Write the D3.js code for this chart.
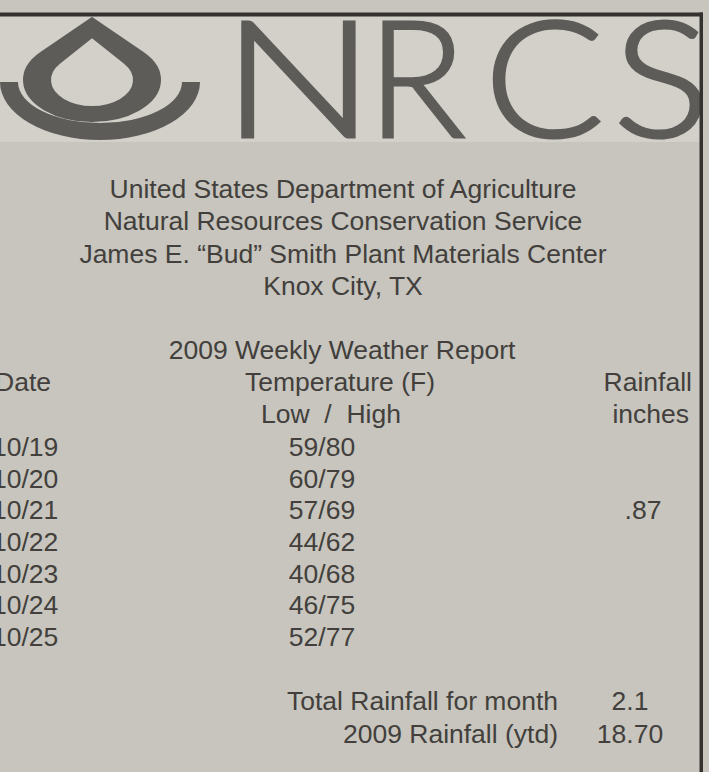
<!DOCTYPE html>
<html>
<head>
<meta charset="utf-8">
<script src="https://cdn.jsdelivr.net/npm/d3@7"></script>
<style>
  body { margin: 0; background: #c7c5bd; }
  text { font-family: "Liberation Sans", Arial, sans-serif; fill: #423f3c; }
</style>
</head>
<body>
<div id="chart"></div>
<script>
// report data
var headerLines = [
  "United States Department of Agriculture",
  "Natural Resources Conservation Service",
  "James E. \u201cBud\u201d Smith Plant Materials Center",
  "Knox City, TX"
];
var reportTitle = "2009 Weekly Weather Report";
var dates = ["10/19", "10/20", "10/21", "10/22", "10/23", "10/24", "10/25"];
var lows = [59, 60, 57, 44, 40, 46, 52];
var highs = [80, 79, 69, 62, 68, 75, 77];
var rainfall = [null, null, 0.87, null, null, null, null];
var totalLabels = ["Total Rainfall for month", "2009 Rainfall (ytd)"];
var totalValues = ["2.1", "18.70"];

var width = 709;
var height = 772;

var svg = d3.select("#chart")
  .append("svg")
  .attr("width", width)
  .attr("height", height);

//paper
svg.append("rect")
  .attr("width", width).attr("height", height)
  .attr("fill", "#c7c5bd");

//logo band
svg.append("rect")
  .attr("x", 0).attr("y", 16)
  .attr("width", 700).attr("height", 126)
  .attr("fill", "#d2d0c9");

svg.append("clipPath").attr("id", "band")
  .append("rect").attr("x", 0).attr("y", 16).attr("width", 700).attr("height", 126);

var logo = svg.append("g").attr("clip-path", "url(#band)");

//drop: apex + elliptic bottom, outer and inner
function drop(ax, ay, cx, cy, rx, ry) {
  var d = (cy - ay) / ry;
  var ty = -1 / d, tx = Math.sqrt(1 - ty * ty);
  var x1 = cx - tx * rx, x2 = cx + tx * rx, y1 = cy + ty * ry;
  return "M" + ax + "," + ay + "L" + x1 + "," + y1 +
    "A" + rx + "," + ry + " 0 1 0 " + x2 + "," + y1 + "Z";
}
logo.append("path")
  .attr("d", drop(92, 18, 92, 80, 68, 41) + drop(92, 37, 92, 80, 42, 27))
  .attr("fill-rule", "evenodd")
  .attr("stroke", "#5d5c58")
  .attr("stroke-width", 2)
  .attr("stroke-linejoin", "round")
  .attr("fill", "#5d5c58");

//arc under the drop
logo.append("path")
  .attr("d", "M0,82A100,58 0 0 0 200,82L182,82A82,41 0 0 1 18,82Z")
  .attr("fill", "#5d5c58");

//wordmark, each letter placed and stretched on its own
var letters = [
  { c: "N", x: 222, sx: 1.25 },
  { c: "R", x: 367, sx: 1.0 },
  { c: "C", x: 484, sx: 1.1 },
  { c: "S", x: 613, sx: 1.12 }
];
logo.selectAll(".mark")
  .data(letters)
  .enter()
  .append("text")
  .attr("class", "mark")
  .attr("transform", function(d) { return "translate(" + d.x + ",137) scale(" + d.sx + ",1)"; })
  .style("font-family", "Lato, 'Open Sans', sans-serif")
  .style("font-weight", 300)
  .style("font-size", "162px")
  .style("fill", "#5d5c58")
  .style("stroke", "#5d5c58")
  .style("stroke-width", 3)
  .text(function(d) { return d.c; });

//borders
svg.append("rect").attr("x", 0).attr("y", 12.5).attr("width", 703).attr("height", 4).attr("fill", "#33322f");
svg.append("rect").attr("x", 699.5).attr("y", 12.5).attr("width", 3.5).attr("height", height).attr("fill", "#33322f");

var fs = "26.5px";

//agency header
svg.selectAll(".head")
  .data(headerLines)
  .enter()
  .append("text")
  .attr("class", "head")
  .attr("x", 343)
  .attr("y", function(d, i) { return 198 + i * 32.3; })
  .attr("text-anchor", "middle")
  .style("font-size", fs)
  .text(function(d) { return d; });

svg.append("text")
  .attr("x", 342).attr("y", 359)
  .attr("text-anchor", "middle")
  .style("font-size", fs)
  .text(reportTitle);

//column heads
var heads = [
  { t: "Date", x: -5, y: 391, a: "start" },
  { t: "Temperature (F)", x: 340, y: 391, a: "middle" },
  { t: "Rainfall", x: 692, y: 391, a: "end" },
  { t: "Low  /  High", x: 331, y: 423, a: "middle" },
  { t: "inches", x: 689, y: 423, a: "end" }
];
svg.selectAll(".colhead")
  .data(heads)
  .enter()
  .append("text")
  .attr("class", "colhead")
  .attr("x", function(d) { return d.x; })
  .attr("y", function(d) { return d.y; })
  .attr("text-anchor", function(d) { return d.a; })
  .style("font-size", fs)
  .style("white-space", "pre")
  .attr("xml:space", "preserve")
  .text(function(d) { return d.t; });

//rows
var y = d3.scalePoint()
  .domain(dates)
  .range([456, 646]);

var rows = svg.selectAll(".row")
  .data(dates)
  .enter()
  .append("g")
  .attr("class", "row")
  .attr("transform", function(d) { return "translate(0," + y(d) + ")"; });

rows.append("text")
  .attr("x", -8)
  .style("font-size", fs)
  .text(function(d) { return d; });

rows.append("text")
  .attr("x", 322)
  .attr("text-anchor", "middle")
  .style("font-size", fs)
  .text(function(d, i) { return lows[i] + "/" + highs[i]; });

rows.append("text")
  .attr("x", 643)
  .attr("text-anchor", "middle")
  .style("font-size", fs)
  .text(function(d, i) {
    return rainfall[i] == null ? "" : d3.format(".2f")(rainfall[i]).replace(/^0/, "");
  });

//totals
svg.selectAll(".tlabel")
  .data(totalLabels)
  .enter()
  .append("text")
  .attr("class", "tlabel")
  .attr("x", 558)
  .attr("y", function(d, i) { return 710 + i * 32.5; })
  .attr("text-anchor", "end")
  .style("font-size", fs)
  .text(function(d) { return d; });

svg.selectAll(".tvalue")
  .data(totalValues)
  .enter()
  .append("text")
  .attr("class", "tvalue")
  .attr("x", 630)
  .attr("y", function(d, i) { return 710 + i * 32.5; })
  .attr("text-anchor", "middle")
  .style("font-size", fs)
  .text(function(d) { return d; });
</script>
</body>
</html>
